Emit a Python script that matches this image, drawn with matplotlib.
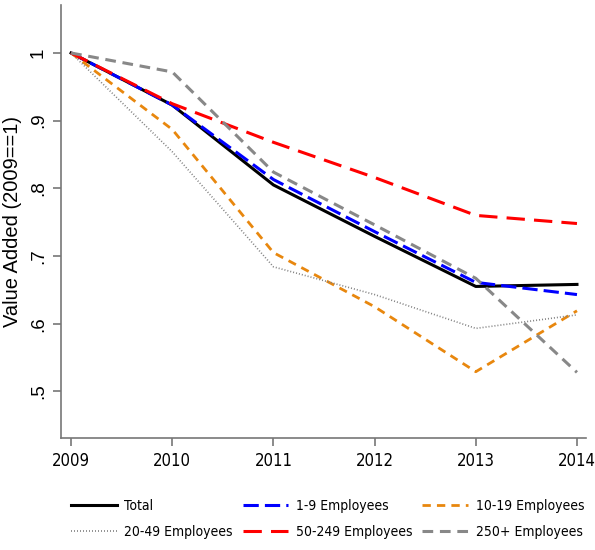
import matplotlib
matplotlib.use("Agg")
import matplotlib.pyplot as plt
from matplotlib import font_manager
from matplotlib.font_manager import FontProperties

years = [2009, 2010, 2011, 2012, 2013, 2014]
total = [1.0, 0.923, 0.805, 0.729, 0.655, 0.658]
e1_9 = [1.0, 0.923, 0.813, 0.736, 0.661, 0.643]
e10_19 = [1.0, 0.887, 0.705, 0.625, 0.529, 0.619]
e20_49 = [1.0, 0.854, 0.684, 0.643, 0.593, 0.613]
e50_249 = [1.0, 0.925, 0.868, 0.816, 0.760, 0.748]
e250 = [1.0, 0.972, 0.824, 0.746, 0.667, 0.528]
yticks = [0.5, 0.6, 0.7, 0.8, 0.9, 1.0]
yticklabels = [".5", ".6", ".7", ".8", ".9", "1"]

# condensed sans face for horizontal text (reference text is horizontally narrow)
cond = None
for f in font_manager.fontManager.ttflist:
    fn = f.fname.split('/')[-1].lower()
    if fn in ('liberationsansnarrow-regular.ttf', 'dejavusanscondensed.ttf', 'robotocondensed-regular.ttf'):
        cond = f.fname
        break

def fpc(size):
    if cond:
        return FontProperties(fname=cond, size=size)
    return FontProperties(family=['Liberation Sans', 'DejaVu Sans'], size=size)

def fpr(size):
    return FontProperties(family=['Liberation Sans', 'DejaVu Sans'], size=size)

fig = plt.figure(figsize=(5.95, 5.5), dpi=100)
ax = fig.add_axes([0.1025, 0.2036, 0.8825, 0.7874])

l_tot, = ax.plot(years, total, color='black', lw=2.2, ls='-', label='Total')
l_19, = ax.plot(years, e1_9, color='#0000ff', lw=2.2, ls=(0, (5, 2)), label='1-9 Employees')
l_1019, = ax.plot(years, e10_19, color='#e8870e', lw=2.0, ls=(0, (3, 2.2)), label='10-19 Employees')
l_2049, = ax.plot(years, e20_49, color='#808080', lw=1.2, ls=(0, (0.6, 1.2)), label='20-49 Employees')
l_50, = ax.plot(years, e50_249, color='#ff0000', lw=2.2, ls=(0, (6, 3)), label='50-249 Employees')
l_250, = ax.plot(years, e250, color='#888888', lw=2.2, ls=(0, (3.5, 2.2)), label='250+ Employees')

ax.set_xlim(2008.90, 2014.09)
ax.set_ylim(0.431, 1.071)
ax.set_xticks(years)
ax.set_xticklabels([str(y) for y in years], fontproperties=fpc(12))
ax.set_yticks(yticks)
ax.set_yticklabels(yticklabels, fontproperties=fpr(13.5), rotation=90, va='center')
ax.set_ylabel('Value Added (2009==1)', fontproperties=fpr(14.5), labelpad=6)

for s in ['top', 'right']:
    ax.spines[s].set_visible(False)
for s in ['left', 'bottom']:
    ax.spines[s].set_color('#777777')
    ax.spines[s].set_linewidth(1.2)
ax.tick_params(axis='both', color='#777777', width=1.2, length=6, pad=4)

handles = [l_tot, l_2049, l_19, l_50, l_1019, l_250]
labels = [h.get_label() for h in handles]
fig.legend(handles, labels, ncol=3, loc='center', bbox_to_anchor=(0.5504, 0.0564),
           frameon=False, prop=fpc(10), handlelength=3.3, handletextpad=0.55,
           columnspacing=0.7, labelspacing=0.85, borderpad=0.0)

fig.savefig('out.png', dpi=100)
